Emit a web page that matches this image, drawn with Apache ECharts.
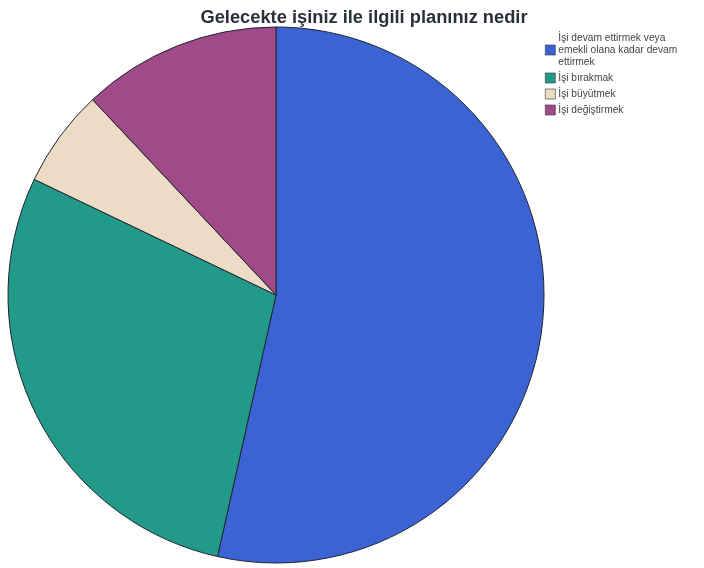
<!DOCTYPE html>
<html>
<head>
<meta charset="utf-8">
<script src="https://cdn.jsdelivr.net/npm/echarts@6/dist/echarts.min.js"></script>
<style>
  html, body { margin: 0; padding: 0; background: #ffffff; }
  #chart { width: 704px; height: 568px; }
</style>
</head>
<body>
<div id="chart"></div>
<script>
// Survey answers: share of respondents per future plan (%)
const categories = [
  'İşi devam ettirmek veya\nemekli olana kadar devam\nettirmek',
  'İşi bırakmak',
  'İşi büyütmek',
  'İşi değiştirmek'
];
const values = [53.5, 28.6, 5.9, 12.0];
const colors = ['#3b63d4', '#23998a', '#ecdcc5', '#a14a89'];

const chart = echarts.init(document.getElementById('chart'), null, { renderer: 'canvas' });

chart.setOption({
  animation: false,
  color: colors,
  title: {
    text: 'Gelecekte işiniz ile ilgili planınız nedir',
    left: 359,
    textAlign: 'center',
    top: 4,
    textStyle: {
      fontFamily: 'Liberation Sans, Arial, sans-serif',
      fontSize: 18.3,
      fontWeight: 'bold',
      color: '#2a2f3a'
    }
  },
  legend: {
    orient: 'vertical',
    left: 545,
    top: 32,
    itemWidth: 10,
    itemHeight: 10,
    itemGap: 4,
    icon: 'rect',
    padding: 0,
    itemStyle: { borderColor: '#333', borderWidth: 0.6 },
    textStyle: {
      fontFamily: 'Liberation Sans, Arial, sans-serif',
      fontSize: 10.2,
      lineHeight: 12,
      color: '#444',
      padding: [0, 0, 0, -2]
    },
    data: categories
  },
  series: [{
    type: 'pie',
    center: [276, 295],
    radius: 268,
    startAngle: 90,
    clockwise: true,
    label: { show: false },
    labelLine: { show: false },
    emphasis: { disabled: true },
    itemStyle: { borderColor: '#1e2430', borderWidth: 1 },
    data: categories.map((name, i) => ({ name, value: values[i] }))
  }]
});
</script>
</body>
</html>
